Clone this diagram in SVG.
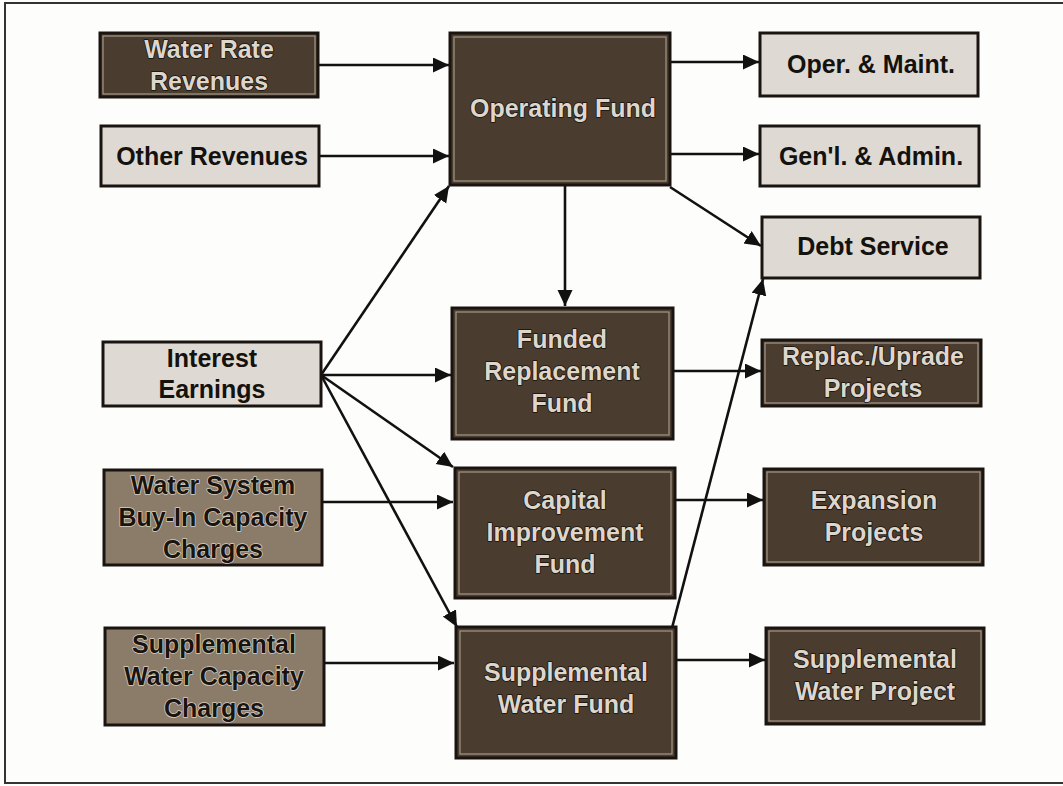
<svg xmlns="http://www.w3.org/2000/svg" width="1063" height="786" viewBox="0 0 1063 786">
<style>
.box{stroke:#1a1410;stroke-width:3}
.dark{fill:#4a3c2e}
.med{fill:#8b7b69}
.light{fill:#dedad3}
.inner{fill:none;stroke:#a49888;stroke-width:1.2}
text{font-family:"Liberation Sans",Arial,sans-serif;font-size:25px;font-weight:bold;text-anchor:middle}
.tl{fill:#ddd6cc;stroke:#15100b;stroke-width:1.5;paint-order:stroke;stroke-linejoin:round}
.td{fill:#1a140f;stroke:#d8d0c4;stroke-width:1.5;paint-order:stroke;stroke-linejoin:round}
.tb{fill:#15110d}
.conn{stroke:#111;stroke-width:2.6;fill:none;marker-end:url(#ah)}
</style>
<defs>
<marker id="ah" markerUnits="userSpaceOnUse" markerWidth="18" markerHeight="16" refX="16" refY="7.5" orient="auto">
<path d="M0,0 L16,7.5 L0,15 Z" fill="#111"/>
</marker>
</defs>
<rect x="0" y="0" width="1063" height="786" fill="#fdfdfb"/>
<rect x="5" y="3" width="1062" height="780" fill="none" stroke="#333" stroke-width="2"/>

<g id="connectors">
<line class="conn" x1="318" y1="65" x2="449" y2="65"/>
<line class="conn" x1="319" y1="156" x2="449" y2="156"/>
<line class="conn" x1="321" y1="375" x2="449" y2="186"/>
<line class="conn" x1="321" y1="375" x2="451" y2="375"/>
<line class="conn" x1="321" y1="375" x2="453" y2="467"/>
<line class="conn" x1="321" y1="375" x2="457" y2="627"/>
<line class="conn" x1="322" y1="502" x2="453" y2="502"/>
<line class="conn" x1="324" y1="663" x2="454" y2="663"/>
<line class="conn" x1="670" y1="62" x2="759" y2="62"/>
<line class="conn" x1="670" y1="154" x2="759" y2="154"/>
<line class="conn" x1="670" y1="187" x2="761" y2="246"/>
<line class="conn" x1="565" y1="185" x2="565" y2="306"/>
<line class="conn" x1="672" y1="628" x2="763" y2="279"/>
<line class="conn" x1="674" y1="371" x2="761" y2="371"/>
<line class="conn" x1="675" y1="500" x2="763" y2="500"/>
<line class="conn" x1="676" y1="660" x2="765" y2="660"/>
</g>

<g id="water-rate-revenues">
<rect class="box dark" x="100" y="33" width="218" height="64"/>
<rect class="inner" x="103" y="36" width="212" height="58"/>
<text class="tl" x="209" y="58">Water Rate</text>
<text class="tl" x="209" y="90">Revenues</text>
</g>
<g id="other-revenues">
<rect class="box light" x="101" y="126" width="218" height="60"/>
<text class="tb" x="212" y="165">Other Revenues</text>
</g>
<g id="interest-earnings">
<rect class="box light" x="103" y="342" width="218" height="64"/>
<text class="tb" x="212" y="367">Interest</text>
<text class="tb" x="212" y="398">Earnings</text>
</g>
<g id="water-system-buy-in">
<rect class="box med" x="104" y="470" width="218" height="95"/>
<text class="td" x="213" y="494">Water System</text>
<text class="td" x="213" y="526">Buy-In Capacity</text>
<text class="td" x="213" y="558">Charges</text>
</g>
<g id="supplemental-water-capacity">
<rect class="box med" x="105" y="628" width="219" height="97"/>
<text class="td" x="214" y="653">Supplemental</text>
<text class="td" x="214" y="685">Water Capacity</text>
<text class="td" x="214" y="717">Charges</text>
</g>

<g id="operating-fund">
<rect class="box dark" x="450" y="33" width="220" height="152"/>
<rect class="inner" x="454" y="37" width="212" height="144"/>
<text class="tl" x="563" y="117">Operating Fund</text>
</g>
<g id="funded-replacement-fund">
<rect class="box dark" x="452" y="308" width="221" height="131"/>
<rect class="inner" x="456" y="312" width="213" height="123"/>
<text class="tl" x="562" y="348">Funded</text>
<text class="tl" x="562" y="380">Replacement</text>
<text class="tl" x="562" y="412">Fund</text>
</g>
<g id="capital-improvement-fund">
<rect class="box dark" x="455" y="468" width="220" height="130"/>
<rect class="inner" x="459" y="472" width="212" height="122"/>
<text class="tl" x="565" y="509">Capital</text>
<text class="tl" x="565" y="541">Improvement</text>
<text class="tl" x="565" y="573">Fund</text>
</g>
<g id="supplemental-water-fund">
<rect class="box dark" x="456" y="627" width="220" height="131"/>
<rect class="inner" x="460" y="631" width="212" height="123"/>
<text class="tl" x="566" y="681">Supplemental</text>
<text class="tl" x="566" y="713">Water Fund</text>
</g>

<g id="oper-maint">
<rect class="box light" x="760" y="33" width="218" height="63"/>
<text class="tb" x="871" y="73">Oper. &amp; Maint.</text>
</g>
<g id="genl-admin">
<rect class="box light" x="760" y="126" width="219" height="60"/>
<text class="tb" x="871" y="165">Gen'l. &amp; Admin.</text>
</g>
<g id="debt-service">
<rect class="box light" x="762" y="217" width="218" height="61"/>
<text class="tb" x="873" y="255">Debt Service</text>
</g>
<g id="replac-uprade-projects">
<rect class="box dark" x="762" y="340" width="219" height="66"/>
<rect class="inner" x="765" y="343" width="213" height="60"/>
<text class="tl" x="873" y="365">Replac./Uprade</text>
<text class="tl" x="873" y="397">Projects</text>
</g>
<g id="expansion-projects">
<rect class="box dark" x="764" y="469" width="219" height="96"/>
<rect class="inner" x="767" y="472" width="213" height="90"/>
<text class="tl" x="874" y="509">Expansion</text>
<text class="tl" x="874" y="541">Projects</text>
</g>
<g id="supplemental-water-project">
<rect class="box dark" x="766" y="628" width="218" height="96"/>
<rect class="inner" x="769" y="631" width="212" height="90"/>
<text class="tl" x="875" y="668">Supplemental</text>
<text class="tl" x="875" y="700">Water Project</text>
</g>
</svg>
